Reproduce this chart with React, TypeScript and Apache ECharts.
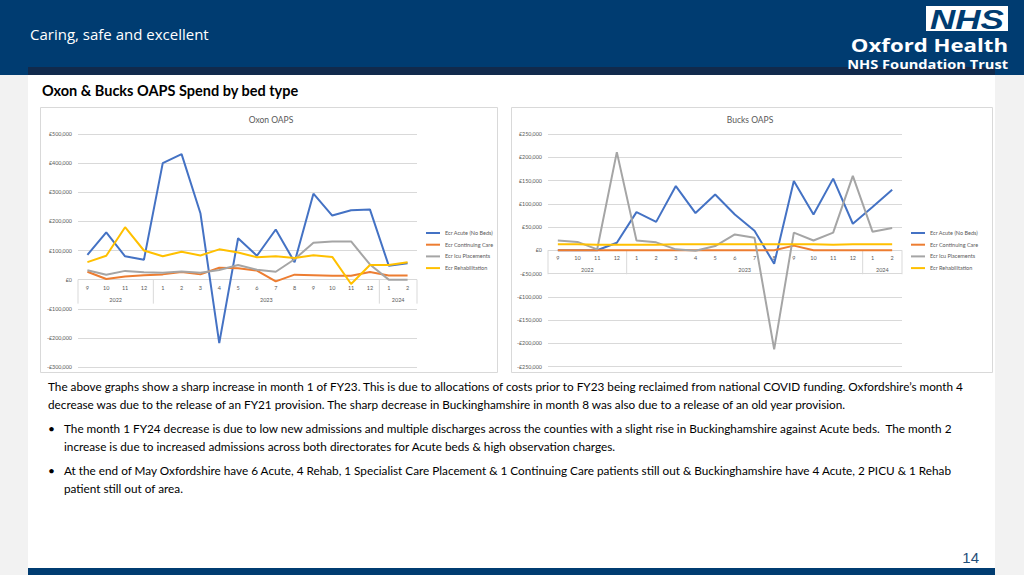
import React, { useEffect, useRef } from "react";
import * as echarts from "echarts";

// ---------- data ----------
const months = ["9", "10", "11", "12", "1", "2", "3", "4", "5", "6", "7", "8", "9", "10", "11", "12", "1", "2"];
const years = ["2022", "2023", "2024"];
const yearSpans = [4, 12, 2];
const seriesNames = ["Ecr Acute (No Beds)", "Ecr Continuing Care", "Ecr Icu Placements", "Ecr Rehabilitation"];
const seriesColors = ["#4472C4", "#ED7D31", "#A5A5A5", "#FFC000"];

const oxonAcute = [85000, 162000, 80000, 68000, 400000, 431000, 228000, -218000, 142000, 82000, 172000, 60000, 295000, 220000, 238000, 241000, 48000, 56000];
const oxonContinuing = [27000, 2000, 11000, 15000, 18000, 26000, 18000, 41000, 39000, 31000, -6000, 17000, 15000, 13000, 13000, 26000, 14000, 14000];
const oxonIcu = [32000, 17000, 30000, 25000, 24000, 28000, 24000, 33000, 50000, 34000, 27000, 70000, 127000, 131000, 131000, 52000, 0, 0];
const oxonRehab = [60000, 82000, 180000, 100000, 80000, 96000, 83000, 104000, 93000, 77000, 80000, 74000, 84000, 78000, -15000, 50000, 50000, 60000];

const bucksAcute = [0, 0, 0, 16000, 82000, 61000, 138000, 80000, 120000, 77000, 42000, -29000, 149000, 77000, 154000, 57000, 93000, 130000];
const bucksContinuing = [0, 0, 0, 0, 0, 0, 0, 0, 0, 0, 0, 0, 10000, 0, 0, 0, 0, 0];
const bucksIcu = [21000, 18000, 2000, 211000, 21000, 17000, 2000, -1000, 9000, 34000, 27000, -213000, 38000, 21000, 38000, 160000, 40000, 48000];
const bucksRehab = [13000, 13000, 12000, 12000, 12000, 12000, 13000, 13000, 13000, 13000, 13000, 13000, 13000, 13000, 12000, 13000, 13000, 13000];

const paragraphLines = [
  "The above graphs show a sharp increase in month 1 of FY23. This is due to allocations of costs prior to FY23 being reclaimed from national COVID funding. Oxfordshire\u2019s month 4",
  "decrease was due to the release of an FY21 provision. The sharp decrease in Buckinghamshire in month 8 was also due to a release of an old year provision.",
];
const bullet1Lines = [
  "The month 1 FY24 decrease is due to low new admissions and multiple discharges across the counties with a slight rise in Buckinghamshire against Acute beds.  The month 2",
  "increase is due to increased admissions across both directorates for Acute beds & high observation charges.",
];
const bullet2Lines = [
  "At the end of May Oxfordshire have 6 Acute, 4 Rehab, 1 Specialist Care Placement & 1 Continuing Care patients still out & Buckinghamshire have 4 Acute, 2 PICU & 1 Rehab",
  "patient still out of area.",
];

const FONT = "Lato, 'Noto Sans', sans-serif";
const AXIS_GREY = "#595959";
const GRID_GREY = "#D9D9D9";

const fmtMoney = (v: number) => (v < 0 ? "-" : "") + "\u00A3" + Math.abs(v).toLocaleString("en-GB");

const yearData = (() => {
  let s = 0;
  return yearSpans.map((n) => {
    const d = [s, n];
    s += n;
    return d;
  });
})();

// Draws the two-level Excel-style category axis (months + year groups) at the zero line
function categoryAxisRender(params: any, api: any) {
  const s = api.value(0);
  const n = api.value(1);
  const c0 = api.coord([s, 0]);
  const bw = api.size([1, 0])[0];
  const x0 = c0[0] - bw / 2;
  const x1 = x0 + n * bw;
  const y0 = c0[1];
  const children: any[] = [
    { type: "line", shape: { x1: x0, y1: y0, x2: x0, y2: y0 + 24 }, style: { stroke: GRID_GREY, lineWidth: 1 } },
    {
      type: "text",
      style: {
        text: years[params.dataIndex],
        x: (x0 + x1) / 2,
        y: y0 + 20,
        align: "center",
        verticalAlign: "middle",
        fontSize: 5.5,
        fontFamily: FONT,
        fill: AXIS_GREY,
      },
    },
  ];
  for (let i = 0; i < n; i++) {
    const c = api.coord([s + i, 0]);
    children.push({
      type: "text",
      style: {
        text: months[s + i],
        x: c[0],
        y: y0 + 8,
        align: "center",
        verticalAlign: "middle",
        fontSize: 5.5,
        fontFamily: FONT,
        fill: AXIS_GREY,
      },
    });
  }
  if (params.dataIndex === years.length - 1) {
    children.push({ type: "line", shape: { x1: x1, y1: y0, x2: x1, y2: y0 + 24 }, style: { stroke: GRID_GREY, lineWidth: 1 } });
  }
  return { type: "group", children };
}

function makeLineSeries(values: number[], i: number, gi: number) {
  return {
    type: "line",
    name: seriesNames[i],
    xAxisIndex: gi,
    yAxisIndex: gi,
    data: values,
    symbol: "none",
    lineStyle: { width: 2, color: seriesColors[i] },
    itemStyle: { color: seriesColors[i] },
    z: 3,
  };
}

function textLines(lines: string[], x: number, y0: number, step: number) {
  return lines.map((t, k) => ({
    type: "text",
    x,
    y: y0 + k * step,
    style: { text: t, fontSize: 11.75, fontFamily: FONT, fill: "#000", verticalAlign: "middle" },
  }));
}

export default function App() {
  const ref = useRef<HTMLDivElement>(null);
  useEffect(() => {
    if (!ref.current) return;
    const chart = echarts.init(ref.current, undefined, { renderer: "svg" });
    const xAxisBase = (gi: number) => ({
      type: "category",
      gridIndex: gi,
      data: months,
      boundaryGap: true,
      axisLine: { show: false },
      axisTick: { show: false },
      axisLabel: { show: false },
      splitLine: { show: false },
    });
    const yAxisBase = (gi: number, min: number, max: number, interval: number) => ({
      type: "value",
      gridIndex: gi,
      min,
      max,
      interval,
      axisLine: { show: false },
      axisTick: { show: false },
      axisLabel: { fontSize: 5.4, color: AXIS_GREY, fontFamily: FONT, margin: 6, formatter: fmtMoney },
      splitLine: { lineStyle: { color: GRID_GREY, width: 1 } },
    });
    const legendBase = (left: number) => ({
      orient: "vertical",
      left,
      top: 229,
      padding: 0,
      data: seriesNames,
      icon: "rect",
      itemWidth: 14,
      itemHeight: 2,
      itemGap: 3.7,
      textStyle: { fontSize: 5.5, lineHeight: 8, color: AXIS_GREY, fontFamily: FONT },
      selectedMode: false,
    });

    chart.setOption({
      animation: false,
      textStyle: { fontFamily: FONT },
      graphic: [
        { type: "rect", shape: { x: 0, y: 0, width: 1024, height: 575 }, style: { fill: "#F2F2F2" }, z: -10 },
        { type: "rect", shape: { x: 0, y: 0, width: 1024, height: 75 }, style: { fill: "#003C71" }, z: -9 },
        { type: "rect", shape: { x: 28, y: 67, width: 967, height: 8 }, style: { fill: "#112A4C" }, z: -8 },
        { type: "rect", shape: { x: 28, y: 75, width: 967, height: 493 }, style: { fill: "#FFFFFF" }, z: -8 },
        { type: "rect", shape: { x: 28, y: 568, width: 967, height: 7 }, style: { fill: "#003C71" }, z: -8 },
        {
          type: "text",
          x: 30,
          y: 34,
          style: { text: "Caring, safe and excellent", fontSize: 15, fontFamily: "'Open Sans', sans-serif", fill: "#FFFFFF", verticalAlign: "middle" },
        },
        { type: "rect", shape: { x: 926, y: 6, width: 82, height: 25 }, style: { fill: "#FFFFFF" } },
        {
          type: "text",
          x: 967,
          y: 19,
          scaleX: 1.25,
          style: { text: "NHS", fontSize: 28, fontWeight: "bold", fontStyle: "italic", fontFamily: "'Liberation Sans', Arial, sans-serif", fill: "#003C71", align: "center", verticalAlign: "middle" },
        },
        {
          type: "text",
          x: 1008,
          y: 45,
          scaleX: 1.2,
          style: { text: "Oxford Health", fontSize: 18.5, fontWeight: "bold", fontFamily: "'Open Sans', sans-serif", fill: "#FFFFFF", align: "right", verticalAlign: "middle" },
        },
        {
          type: "text",
          x: 1008,
          y: 64,
          scaleX: 1.17,
          style: { text: "NHS Foundation Trust", fontSize: 12.5, fontWeight: "bold", fontFamily: "'Open Sans', sans-serif", fill: "#FFFFFF", align: "right", verticalAlign: "middle" },
        },
        {
          type: "text",
          x: 42,
          y: 90,
          style: { text: "Oxon & Bucks OAPS Spend by bed type", fontSize: 14.5, fontWeight: "bold", fontFamily: FONT, fill: "#000", verticalAlign: "middle" },
        },
        { type: "rect", shape: { x: 40.5, y: 107.5, width: 457, height: 265 }, style: { fill: "none", stroke: "#D9D9D9", lineWidth: 1 }, z: -5 },
        { type: "rect", shape: { x: 511.5, y: 107.5, width: 481, height: 265 }, style: { fill: "none", stroke: "#D9D9D9", lineWidth: 1 }, z: -5 },
        {
          type: "text",
          x: 271,
          y: 120,
          style: { text: "Oxon OAPS", fontSize: 8.5, fontFamily: FONT, fill: AXIS_GREY, align: "center", verticalAlign: "middle" },
        },
        {
          type: "text",
          x: 750,
          y: 120,
          style: { text: "Bucks OAPS", fontSize: 8.5, fontFamily: FONT, fill: AXIS_GREY, align: "center", verticalAlign: "middle" },
        },
        ...textLines(paragraphLines, 48, 386, 18),
        { type: "text", x: 48, y: 428, style: { text: "\u2022", fontSize: 12, fontFamily: FONT, fill: "#000", verticalAlign: "middle" } },
        ...textLines(bullet1Lines, 64, 428, 18),
        { type: "text", x: 48, y: 470, style: { text: "\u2022", fontSize: 12, fontFamily: FONT, fill: "#000", verticalAlign: "middle" } },
        ...textLines(bullet2Lines, 64, 470, 18),
        {
          type: "text",
          x: 979,
          y: 557,
          style: { text: "14", fontSize: 15, fontFamily: "'Liberation Sans', Arial, sans-serif", fill: "#1F4E79", align: "right", verticalAlign: "middle" },
        },
      ],
      grid: [
        { left: 78, top: 134, width: 339, height: 233 },
        { left: 548, top: 134, width: 354, height: 232.5 },
      ],
      xAxis: [xAxisBase(0), xAxisBase(1)],
      yAxis: [yAxisBase(0, -300000, 500000, 100000), yAxisBase(1, -250000, 250000, 50000)],
      legend: [legendBase(426), legendBase(911)],
      series: [
        makeLineSeries(oxonAcute, 0, 0),
        makeLineSeries(oxonContinuing, 1, 0),
        makeLineSeries(oxonIcu, 2, 0),
        makeLineSeries(oxonRehab, 3, 0),
        makeLineSeries(bucksAcute, 0, 1),
        makeLineSeries(bucksContinuing, 1, 1),
        makeLineSeries(bucksIcu, 2, 1),
        makeLineSeries(bucksRehab, 3, 1),
        {
          type: "custom",
          name: "axis-oxon",
          xAxisIndex: 0,
          yAxisIndex: 0,
          data: yearData,
          renderItem: categoryAxisRender,
          clip: false,
          silent: true,
          z: 1,
        },
        {
          type: "custom",
          name: "axis-bucks",
          xAxisIndex: 1,
          yAxisIndex: 1,
          data: yearData,
          renderItem: categoryAxisRender,
          clip: false,
          silent: true,
          z: 1,
        },
      ],
    });
    return () => chart.dispose();
  }, []);
  return <div ref={ref} style={{ position: "absolute", left: 0, top: 0, width: 1024, height: 575 }} />;
}
